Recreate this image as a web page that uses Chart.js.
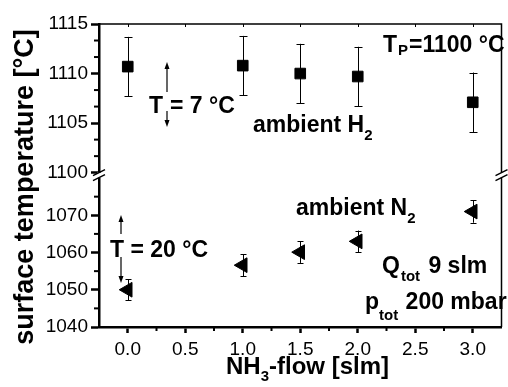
<!DOCTYPE html>
<html>
<head>
<meta charset="utf-8">
<script src="https://cdn.jsdelivr.net/npm/chart.js@4.4.0/dist/chart.umd.min.js"></script>
<style>
  html, body { margin: 0; padding: 0; background: #fff; overflow: hidden; }
  #wrap { width: 511px; height: 387px; position: relative; }
</style>
</head>
<body>
<div id="wrap"><canvas id="temp"></canvas></div>
<script>
// NH3 flow [slm]
var flow = [0, 1, 1.5, 2, 3];
// ambient H2, upper panel
var tempH2 = [1110.7, 1110.8, 1110.0, 1109.7, 1107.1];
var errH2 = [3.0, 3.0, 3.0, 3.0, 3.0];
// ambient N2, lower panel
var tempN2 = [1050.0, 1056.6, 1060.1, 1063.0, 1071.0];
var errN2 = [2.8, 3.0, 2.9, 2.9, 3.0];

// tick labels
var xTicks = [0, 0.5, 1, 1.5, 2, 2.5, 3];
var yTopTicks = [1100, 1105, 1110, 1115];
var yBotTicks = [1040, 1050, 1060, 1070];

var FONT = '"Liberation Sans", Arial, Helvetica, sans-serif';

function toPoints(xs, ys) {
  return xs.map(function (x, i) { return { x: x, y: ys[i] }; });
}

function rich(ctx, x, y, parts) {
  parts.forEach(function (p) {
    ctx.font = 'bold ' + p[1] + 'px ' + FONT;
    ctx.fillText(p[0], x, y + (p[2] || 0));
    x += ctx.measureText(p[0]).width + (p[3] || 0);
  });
  return x;
}

function arrow(ctx, x, y0, y1) {
  // line from y0 to y1, head at y1
  var dir = y1 > y0 ? 1 : -1;
  ctx.beginPath();
  ctx.moveTo(x, y0);
  ctx.lineTo(x, y1 - dir * 6);
  ctx.lineWidth = 1.2;
  ctx.stroke();
  ctx.beginPath();
  ctx.moveTo(x, y1);
  ctx.lineTo(x - 2.5, y1 - dir * 7);
  ctx.lineTo(x + 2.5, y1 - dir * 7);
  ctx.closePath();
  ctx.fill();
}

function breakMark(ctx, x, y) {
  ctx.save();
  ctx.fillStyle = '#fff';
  ctx.fillRect(x - 2, y - 2, 4, 5);
  ctx.strokeStyle = '#000';
  ctx.lineWidth = 1.5;
  ctx.beginPath();
  ctx.moveTo(x - 6, y + 1); ctx.lineTo(x + 6, y - 5);
  ctx.moveTo(x - 6, y + 6); ctx.lineTo(x + 6, y);
  ctx.stroke();
  ctx.restore();
}

var errorBars = {
  id: 'errorBars',
  beforeDatasetsDraw: function (chart) {
    var ctx = chart.ctx;
    var errs = [errH2, errN2];
    var caps = [4, 3];
    ctx.save();
    ctx.strokeStyle = '#000';
    ctx.lineWidth = 1;
    chart.data.datasets.forEach(function (ds, di) {
      var meta = chart.getDatasetMeta(di);
      meta.data.forEach(function (pt, i) {
        var v = ds.data[i].y;
        var yt = meta.yScale.getPixelForValue(v + errs[di][i]);
        var yb = meta.yScale.getPixelForValue(v - errs[di][i]);
        var x = Math.round(pt.x) + 0.5;
        ctx.beginPath();
        ctx.moveTo(x, yt); ctx.lineTo(x, yb);
        ctx.moveTo(x - caps[di], Math.round(yt) + 0.5); ctx.lineTo(x + caps[di], Math.round(yt) + 0.5);
        ctx.moveTo(x - caps[di], Math.round(yb) + 0.5); ctx.lineTo(x + caps[di], Math.round(yb) + 0.5);
        ctx.stroke();
      });
    });
    ctx.restore();
  }
};

var decorations = {
  id: 'decorations',
  afterDraw: function (chart) {
    var ctx = chart.ctx;
    var a = chart.chartArea;
    var sx = chart.scales.x, st = chart.scales.yTop, sb = chart.scales.yBot;
    ctx.save();
    ctx.strokeStyle = '#000';
    ctx.fillStyle = '#000';

    // frame top and right
    ctx.lineWidth = 1.5;
    ctx.beginPath();
    ctx.moveTo(a.left, a.top); ctx.lineTo(a.right, a.top); ctx.lineTo(a.right, a.bottom);
    ctx.stroke();
    ctx.lineWidth = 1;
    xTicks.forEach(function (v) {
      var px = Math.round(sx.getPixelForValue(v)) + 0.5;
      ctx.beginPath(); ctx.moveTo(px, a.top); ctx.lineTo(px, a.top + 3); ctx.stroke();
    });

    // minor ticks
    ctx.lineWidth = 2;
    for (var i = 0; i < xTicks.length - 1; i++) {
      var px = sx.getPixelForValue((xTicks[i] + xTicks[i + 1]) / 2);
      ctx.beginPath(); ctx.moveTo(px, a.bottom); ctx.lineTo(px, a.bottom + 4); ctx.stroke();
    }
    for (i = 0; i < yTopTicks.length - 1; i++) {
      [1, 2].forEach(function (k) {
        var py = st.getPixelForValue(yTopTicks[i] + k * (yTopTicks[i + 1] - yTopTicks[i]) / 3);
        ctx.beginPath(); ctx.moveTo(a.left, py); ctx.lineTo(a.left - 5, py); ctx.stroke();
      });
    }
    for (i = 0; i < yBotTicks.length; i++) {
      var py = sb.getPixelForValue(yBotTicks[i] + 5);
      ctx.beginPath(); ctx.moveTo(a.left, py); ctx.lineTo(a.left - 5, py); ctx.stroke();
    }

    // axis breaks
    breakMark(ctx, a.left, st.bottom + 2);
    breakMark(ctx, a.right, st.bottom + 2);

    // axis titles
    ctx.textBaseline = 'alphabetic';
    ctx.textAlign = 'center';
    ctx.save();
    ctx.translate(33, 187);
    ctx.rotate(-Math.PI / 2);
    ctx.font = 'bold 27px ' + FONT;
    ctx.fillText('surface temperature [°C]', 0, 0);
    ctx.restore();

    ctx.textAlign = 'left';
    rich(ctx, 226, 374, [['NH', 24], ['3', 15, 7], ['-flow [slm]', 24]]);

    // annotations
    rich(ctx, 383, 52, [['T', 23, 0, 1], ['P', 15, 3, 1], ['=1100 °C', 23]]);
    rich(ctx, 253, 132, [['ambient H', 23], ['2', 15, 8]]);
    rich(ctx, 296, 215, [['ambient N', 23], ['2', 15, 8]]);

    rich(ctx, 149, 113, [['T', 23]]);
    rich(ctx, 170, 113, [['= 7 °C', 23]]);
    arrow(ctx, 167, 92, 62);
    arrow(ctx, 167, 111, 127);

    rich(ctx, 110, 257, [['T = 20 °C', 23]]);
    arrow(ctx, 121, 234, 215);
    arrow(ctx, 121, 257, 283);

    rich(ctx, 382, 273, [['Q', 23, 0, 1], ['tot', 15, 8, 2], [' 9 slm', 23]]);
    rich(ctx, 365, 309, [['p', 23], ['tot', 15, 11, 1], [' 200 mbar', 23]]);
    ctx.restore();
  }
};

var tickFont = { family: FONT, size: 19 };
var plainLabel = function (v) { return String(v); };

new Chart(document.getElementById('temp'), {
  type: 'scatter',
  data: {
    datasets: [{
      label: 'ambient H2',
      data: toPoints(flow, tempH2),
      yAxisID: 'yTop',
      pointStyle: 'rect',
      pointRadius: 7.5,
      borderWidth: 1,
      backgroundColor: '#000',
      borderColor: '#000'
    }, {
      label: 'ambient N2',
      data: toPoints(flow, tempN2),
      yAxisID: 'yBot',
      pointStyle: 'triangle',
      pointRotation: -90,
      pointRadius: 8.5,
      borderWidth: 1,
      backgroundColor: '#000',
      borderColor: '#000'
    }]
  },
  options: {
    responsive: true,
    maintainAspectRatio: false,
    animation: false,
    layout: { padding: { top: 24, left: 0, right: 0, bottom: 0 } },
    plugins: { legend: { display: false }, tooltip: { enabled: false } },
    scales: {
      x: {
        type: 'linear', min: -0.25, max: 3.25,
        afterBuildTicks: function (s) { s.ticks = xTicks.map(function (v) { return { value: v }; }); },
        afterFit: function (s) { s.height = 60; },
        ticks: { font: tickFont, color: '#000', padding: 5, maxRotation: 0,
          callback: function (v) { return v.toFixed(1); } },
        grid: { drawOnChartArea: false, tickLength: 6, tickWidth: 2.5, tickColor: '#000' },
        border: { color: '#000', width: 2.5 }
      },
      yBot: {
        type: 'linear', position: 'left', stack: 'temp', stackWeight: 154.2,
        min: 1040, max: 1081.45,
        afterBuildTicks: function (s) { s.ticks = yBotTicks.map(function (v) { return { value: v }; }); },
        afterFit: function (s) { s.width = 99; },
        ticks: { font: tickFont, color: '#000', padding: 3, callback: plainLabel },
        grid: { drawOnChartArea: false, tickLength: 8, tickWidth: 2.5, tickColor: '#000' },
        border: { color: '#000', width: 2.5 }
      },
      yTop: {
        type: 'linear', position: 'left', stack: 'temp', stackWeight: 148.5,
        min: 1100, max: 1115,
        afterBuildTicks: function (s) { s.ticks = yTopTicks.map(function (v) { return { value: v }; }); },
        afterFit: function (s) { s.width = 99; },
        ticks: { font: tickFont, color: '#000', padding: 3, callback: plainLabel },
        grid: { drawOnChartArea: false, tickLength: 8, tickWidth: 2.5, tickColor: '#000' },
        border: { color: '#000', width: 2.5 }
      }
    }
  },
  plugins: [errorBars, decorations]
});
</script>
</body>
</html>
